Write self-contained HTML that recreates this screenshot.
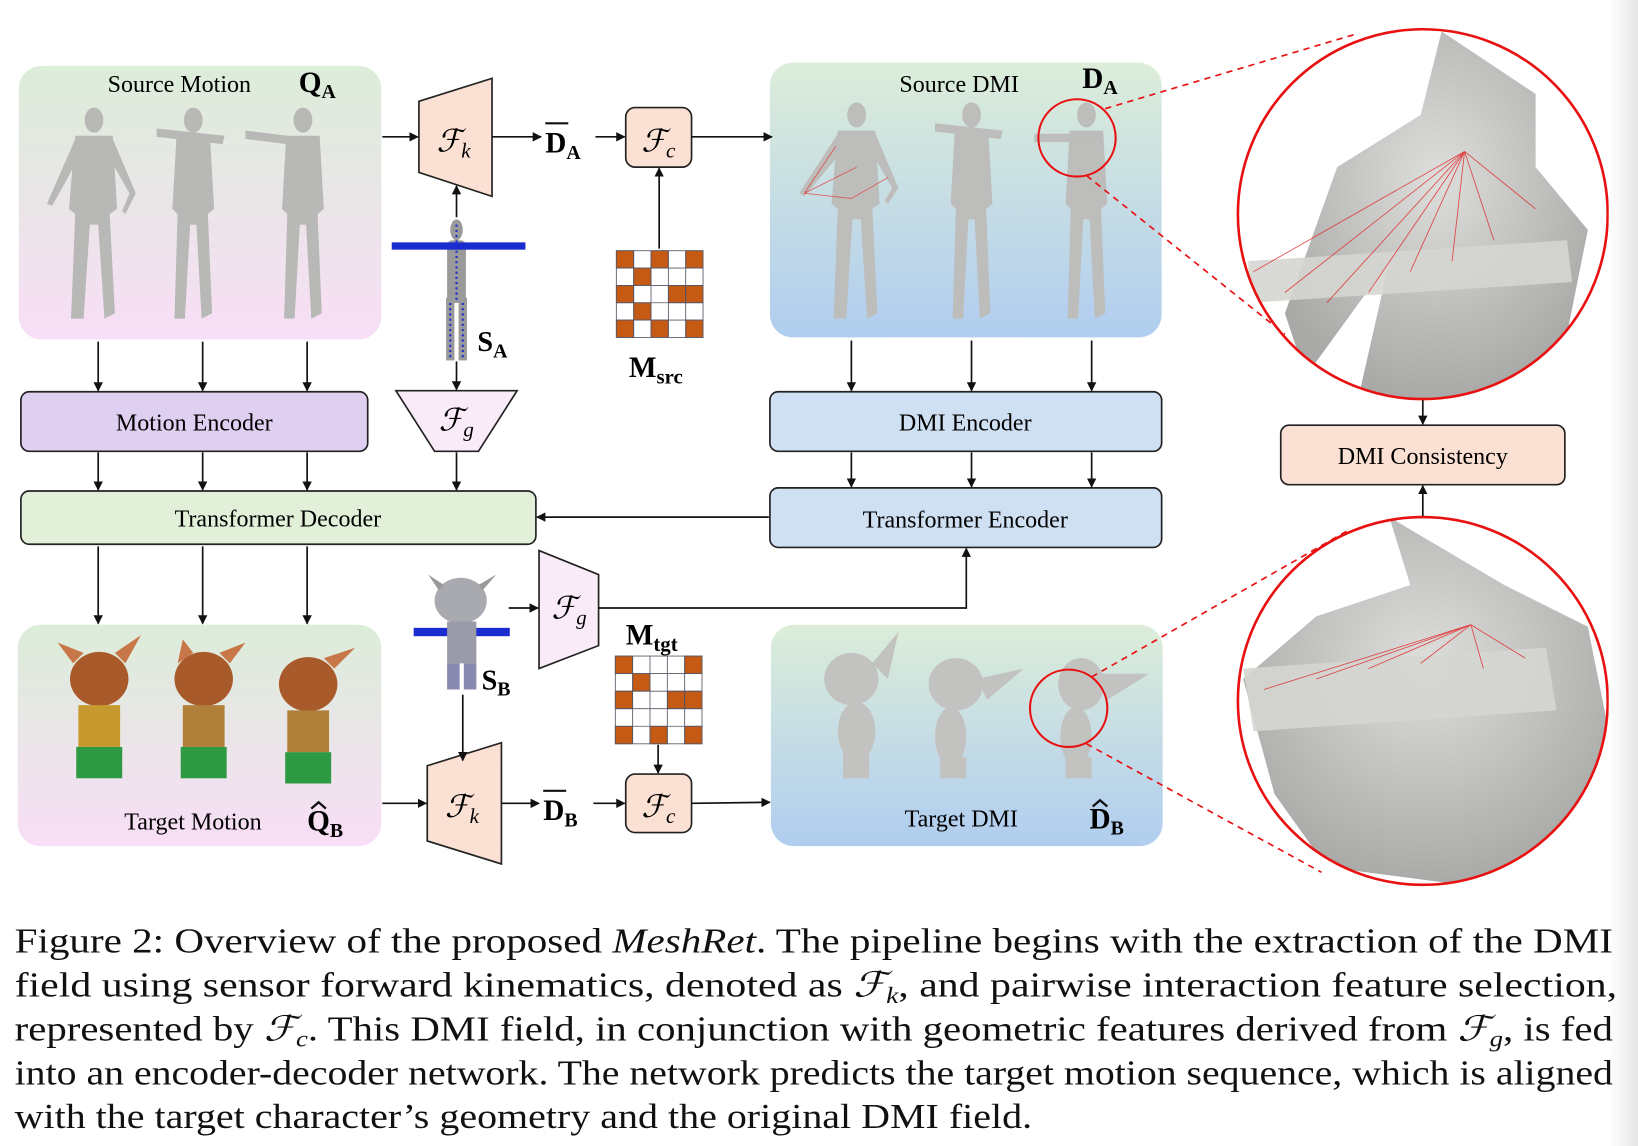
<!DOCTYPE html>
<html><head><meta charset="utf-8"><style>
html,body{margin:0;padding:0;background:#fff;}
svg{display:block;}
text{font-family:"Liberation Serif",serif;}
</style></head><body>
<svg width="1638" height="1146" viewBox="0 0 1568 1097" preserveAspectRatio="none" xmlns="http://www.w3.org/2000/svg">
<defs>
<linearGradient id="gp" x1="0" y1="0" x2="0" y2="1"><stop offset="0" stop-color="#dcedd9"/><stop offset="1" stop-color="#f8def6"/></linearGradient>
<linearGradient id="gb" x1="0" y1="0" x2="0" y2="1"><stop offset="0" stop-color="#dcedd9"/><stop offset="1" stop-color="#b0cdf0"/></linearGradient>
<linearGradient id="edge" x1="0" y1="0" x2="1" y2="0"><stop offset="0" stop-color="#fff"/><stop offset="1" stop-color="#e6e6e6"/></linearGradient>
<marker id="ar" viewBox="0 0 10 10" refX="9" refY="5" markerWidth="9" markerHeight="9" orient="auto" markerUnits="userSpaceOnUse"><path d="M0,0L10,5L0,10z" fill="#111"/></marker>
<radialGradient id="gray" cx="0.5" cy="0.4" r="0.6"><stop offset="0" stop-color="#d8d8d6"/><stop offset="1" stop-color="#9a9a98"/></radialGradient>
</defs>
<rect x="1540" y="0" width="28" height="1097" fill="url(#edge)"/>

<!-- panels -->
<rect x="18" y="63" width="347" height="262" rx="22" fill="url(#gp)"/>
<rect x="737" y="60" width="375" height="263" rx="22" fill="url(#gb)"/>
<rect x="17" y="598" width="348" height="212" rx="22" fill="url(#gp)"/>
<rect x="738" y="598" width="375" height="212" rx="22" fill="url(#gb)"/>

<text x="103" y="88" font-size="23">Source Motion</text>
<text x="286" y="88" font-size="28" font-weight="bold">Q<tspan font-size="19" dy="6">A</tspan></text>
<text x="861" y="88" font-size="23">Source DMI</text>
<text x="1036" y="84" font-size="28" font-weight="bold">D<tspan font-size="19" dy="6">A</tspan></text>
<text x="119" y="794" font-size="23">Target Motion</text>
<text x="294" y="795" font-size="28" font-weight="bold">Q<tspan font-size="19" dy="6">B</tspan></text>
<path d="M298,774 L305,768 L312,774" stroke="#111" stroke-width="2.2" fill="none"/>
<text x="866" y="791" font-size="23">Target DMI</text>
<text x="1043" y="793" font-size="28" font-weight="bold">D<tspan font-size="19" dy="6">B</tspan></text>
<path d="M1046,772 L1053,766 L1060,772" stroke="#111" stroke-width="2.2" fill="none"/>

<!-- source motion figures -->
<g fill="#b8b8b6">
<g transform="translate(90,105)"><ellipse cx="0" cy="10" rx="9" ry="12"/><path d="M-18,25 L18,25 L22,95 L15,100 L20,195 L10,200 L4,110 L-4,110 L-10,200 L-22,200 L-18,100 L-24,95z"/><path d="M-18,28 L-45,90 L-40,92 L-14,45z"/><path d="M18,28 L40,80 L30,100 L27,97 L34,80 L14,45z"/></g>
<g transform="translate(185,105)"><ellipse cx="0" cy="10" rx="9" ry="12"/><path d="M-16,25 L16,25 L20,95 L14,100 L18,195 L8,200 L3,110 L-3,110 L-8,200 L-18,200 L-15,100 L-20,95z"/><path d="M-35,18 L30,25 L28,33 L-35,26z"/></g>
<g transform="translate(290,105)"><ellipse cx="0" cy="10" rx="9" ry="12"/><path d="M-16,25 L16,25 L20,95 L14,100 L18,195 L8,200 L3,110 L-3,110 L-8,200 L-18,200 L-15,100 L-20,95z"/><path d="M-55,20 L10,28 L8,36 L-55,28z"/></g>
</g>
<!-- source DMI figures -->
<g fill="#bdbdbb">
<g transform="translate(820,100)"><ellipse cx="0" cy="10" rx="9" ry="12"/><path d="M-18,25 L18,25 L22,95 L15,100 L20,200 L10,205 L4,110 L-4,110 L-10,205 L-22,205 L-18,100 L-24,95z"/><path d="M-18,28 L-55,85 L-50,88 L-14,45z"/><path d="M18,28 L40,80 L30,95 L27,92 L34,80 L14,45z"/></g>
<g transform="translate(930,100)"><ellipse cx="0" cy="10" rx="9" ry="12"/><path d="M-16,25 L16,25 L20,95 L14,100 L18,200 L8,205 L3,110 L-3,110 L-8,205 L-18,205 L-15,100 L-20,95z"/><path d="M-35,18 L30,25 L28,33 L-35,26z"/></g>
<g transform="translate(1040,100)"><ellipse cx="0" cy="10" rx="9" ry="12"/><path d="M-16,25 L16,25 L20,95 L14,100 L18,200 L8,205 L3,110 L-3,110 L-8,205 L-18,205 L-15,100 L-20,95z"/><path d="M-50,28 L10,28 L8,36 L-50,36z"/></g>
</g>
<g stroke="#e03030" stroke-width="0.7" opacity="0.8"><line x1="770" y1="185" x2="815" y2="190"/><line x1="770" y1="185" x2="820" y2="160"/><line x1="850" y1="170" x2="815" y2="190"/><line x1="770" y1="185" x2="800" y2="140"/></g>

<!-- target motion figures -->
<g>
<g transform="translate(95,620)"><ellipse cx="0" cy="30" rx="28" ry="26" fill="#a85a2a"/><path d="M-25,15 L-40,-5 L-15,5z M25,15 L40,-12 L15,5z" fill="#c87848"/><rect x="-20" y="55" width="40" height="40" fill="#c79a30"/><rect x="-22" y="95" width="44" height="30" fill="#2f9a44"/></g>
<g transform="translate(195,620)"><ellipse cx="0" cy="30" rx="28" ry="26" fill="#a85a2a"/><path d="M-25,15 L-20,-8 L-10,5z M25,15 L40,-5 L15,5z" fill="#c87848"/><rect x="-20" y="55" width="40" height="40" fill="#b0803a"/><rect x="-22" y="95" width="44" height="30" fill="#2f9a44"/></g>
<g transform="translate(295,625)"><ellipse cx="0" cy="30" rx="28" ry="26" fill="#a85a2a"/><path d="M25,15 L45,-5 L15,5z" fill="#c87848"/><rect x="-20" y="55" width="40" height="40" fill="#b0803a"/><rect x="-22" y="95" width="44" height="30" fill="#2f9a44"/></g>
</g>
<!-- target DMI figures -->
<g fill="#c2c2c0">
<g transform="translate(815,625)"><ellipse cx="0" cy="25" rx="26" ry="25"/><path d="M20,10 L45,-20 L35,25z"/><ellipse cx="5" cy="75" rx="18" ry="28"/><rect x="-8" y="95" width="25" height="25"/></g>
<g transform="translate(915,630)"><ellipse cx="0" cy="25" rx="26" ry="25"/><path d="M20,20 L65,10 L30,40z"/><ellipse cx="-5" cy="75" rx="15" ry="28"/><rect x="-15" y="95" width="25" height="20"/></g>
<g transform="translate(1035,630)"><ellipse cx="0" cy="25" rx="22" ry="25"/><path d="M18,15 L65,15 L25,40z"/><ellipse cx="-5" cy="75" rx="15" ry="28"/><rect x="-15" y="95" width="25" height="20"/></g>
</g>

<!-- skeletons -->
<g fill="#9a9a9a"><ellipse cx="437" cy="220" rx="6" ry="10"/><rect x="428" y="230" width="18" height="60" rx="5"/><rect x="375" y="232" width="128" height="7" fill="#1a2bd0"/><rect x="427" y="285" width="8" height="60"/><rect x="439" y="285" width="8" height="60"/></g>
<g stroke="#1a2bd0" stroke-width="2" stroke-dasharray="2 3"><line x1="437" y1="215" x2="437" y2="290"/><line x1="431" y1="290" x2="431" y2="345"/><line x1="443" y1="290" x2="443" y2="345"/></g>
<g><ellipse cx="441" cy="575" rx="25" ry="22" fill="#a9a9b0"/><path d="M420,565 L410,550 L425,560z M462,565 L475,550 L458,560z" fill="#999"/><rect x="396" y="601" width="92" height="8" fill="#1a2bd0"/><rect x="428" y="595" width="28" height="40" fill="#9a9aa8"/><rect x="428" y="635" width="12" height="25" fill="#8a8ab0"/><rect x="444" y="635" width="12" height="25" fill="#8a8ab0"/></g>
<text x="457" y="336" font-size="27" font-weight="bold">S<tspan font-size="19" dy="6">A</tspan></text>
<text x="461" y="660" font-size="27" font-weight="bold">S<tspan font-size="19" dy="6">B</tspan></text>

<!-- boxes -->
<g stroke="#222" stroke-width="1.6">
<rect x="20" y="375" width="332" height="57" rx="8" fill="#dfd0f1"/>
<rect x="737" y="375" width="375" height="57" rx="8" fill="#cfe0f3"/>
<rect x="20" y="470" width="493" height="51" rx="8" fill="#e2efd9"/>
<rect x="737" y="467" width="375" height="57" rx="8" fill="#cfe0f3"/>
<rect x="1226" y="407" width="272" height="57" rx="8" fill="#fbe1d3"/>
<polygon points="401,97 471,75 471,188 401,165" fill="#fbe1d3"/>
<rect x="599" y="103" width="63" height="57" rx="9" fill="#fbe1d3"/>
<polygon points="379,374 495,374 458,432 416,432" fill="#f9ecf8"/>
<polygon points="516,527 573,550 573,618 516,640" fill="#f9ecf8"/>
<polygon points="409,733 480,711 480,827 409,805" fill="#fbe1d3"/>
<rect x="599" y="741" width="63" height="56" rx="9" fill="#fbe1d3"/>
</g>
<g font-size="23" text-anchor="middle">
<text x="186" y="412">Motion Encoder</text>
<text x="924" y="412">DMI Encoder</text>
<text x="266" y="504">Transformer Decoder</text>
<text x="924" y="505">Transformer Encoder</text>
<text x="1362" y="444">DMI Consistency</text>
</g>
<g font-size="30" font-style="italic" font-family="Liberation Serif,serif">
<text x="418" y="145">ℱ<tspan font-size="20" dy="6">k</tspan></text>
<text x="614" y="145">ℱ<tspan font-size="20" dy="6">c</tspan></text>
<text x="420" y="412">ℱ<tspan font-size="20" dy="6">g</tspan></text>
<text x="528" y="592">ℱ<tspan font-size="20" dy="6">g</tspan></text>
<text x="426" y="782">ℱ<tspan font-size="20" dy="6">k</tspan></text>
<text x="614" y="782">ℱ<tspan font-size="20" dy="6">c</tspan></text>
</g>
<text x="522" y="146" font-size="28" font-weight="bold">D<tspan font-size="19" dy="6">A</tspan></text>
<line x1="522" y1="118" x2="544" y2="118" stroke="#111" stroke-width="2"/>
<text x="520" y="785" font-size="28" font-weight="bold">D<tspan font-size="19" dy="6">B</tspan></text>
<line x1="520" y1="757" x2="542" y2="757" stroke="#111" stroke-width="2"/>
<text x="602" y="361" font-size="28" font-weight="bold">M<tspan font-size="20" dy="6">src</tspan></text>
<text x="599" y="617" font-size="28" font-weight="bold">M<tspan font-size="20" dy="6">tgt</tspan></text>

<!-- matrices -->
<g stroke="#556" stroke-width="0.8">
<g transform="translate(590,240)">
<rect width="83" height="83" fill="#fff"/>
<g fill="#c55a14">
<rect x="0" y="0" width="16.6" height="16.6"/><rect x="33.2" y="0" width="16.6" height="16.6"/><rect x="66.4" y="0" width="16.6" height="16.6"/>
<rect x="16.6" y="16.6" width="16.6" height="16.6"/>
<rect x="0" y="33.2" width="16.6" height="16.6"/><rect x="49.8" y="33.2" width="16.6" height="16.6"/><rect x="66.4" y="33.2" width="16.6" height="16.6"/>
<rect x="16.6" y="49.8" width="16.6" height="16.6"/>
<rect x="0" y="66.4" width="16.6" height="16.6"/><rect x="33.2" y="66.4" width="16.6" height="16.6"/><rect x="66.4" y="66.4" width="16.6" height="16.6"/>
</g>
<path d="M16.6,0V83M33.2,0V83M49.8,0V83M66.4,0V83M0,16.6H83M0,33.2H83M0,49.8H83M0,66.4H83" fill="none"/>
</g>
<g transform="translate(589,628)">
<rect width="83" height="84" fill="#fff"/>
<g fill="#c55a14">
<rect x="0" y="0" width="16.6" height="16.8"/><rect x="66.4" y="0" width="16.6" height="16.8"/>
<rect x="16.6" y="16.8" width="16.6" height="16.8"/>
<rect x="0" y="33.6" width="16.6" height="16.8"/><rect x="49.8" y="33.6" width="16.6" height="16.8"/><rect x="66.4" y="33.6" width="16.6" height="16.8"/>
<rect x="0" y="67.2" width="16.6" height="16.8"/><rect x="33.2" y="67.2" width="16.6" height="16.8"/><rect x="66.4" y="67.2" width="16.6" height="16.8"/>
</g>
<path d="M16.6,0V84M33.2,0V84M49.8,0V84M66.4,0V84M0,16.8H83M0,33.6H83M0,50.4H83M0,67.2H83" fill="none"/>
</g>
</g>

<!-- arrows -->
<g stroke="#111" stroke-width="1.6" fill="none" marker-end="url(#ar)">
<line x1="366" y1="131" x2="400" y2="131"/>
<line x1="471" y1="131" x2="518" y2="131"/>
<line x1="570" y1="131" x2="598" y2="131"/>
<line x1="662" y1="131" x2="739" y2="131"/>
<line x1="437" y1="208" x2="437" y2="178"/>
<line x1="631" y1="238" x2="631" y2="161"/>
<line x1="94" y1="327" x2="94" y2="374"/>
<line x1="194" y1="327" x2="194" y2="374"/>
<line x1="294" y1="327" x2="294" y2="374"/>
<line x1="437" y1="346" x2="437" y2="373"/>
<line x1="815" y1="326" x2="815" y2="374"/>
<line x1="930" y1="326" x2="930" y2="374"/>
<line x1="1045" y1="326" x2="1045" y2="374"/>
<line x1="94" y1="433" x2="94" y2="469"/>
<line x1="194" y1="433" x2="194" y2="469"/>
<line x1="294" y1="433" x2="294" y2="469"/>
<line x1="437" y1="433" x2="437" y2="469"/>
<line x1="815" y1="433" x2="815" y2="466"/>
<line x1="930" y1="433" x2="930" y2="466"/>
<line x1="1045" y1="433" x2="1045" y2="466"/>
<line x1="736" y1="495" x2="514" y2="495"/>
<line x1="94" y1="523" x2="94" y2="597"/>
<line x1="194" y1="523" x2="194" y2="597"/>
<line x1="294" y1="523" x2="294" y2="597"/>
<polyline points="573,582 925,582 925,525"/>
<line x1="487" y1="582" x2="515" y2="582"/>
<line x1="443" y1="665" x2="443" y2="728"/>
<line x1="366" y1="769" x2="408" y2="769"/>
<line x1="480" y1="769" x2="516" y2="769"/>
<line x1="568" y1="769" x2="598" y2="769"/>
<line x1="630" y1="713" x2="630" y2="740"/>
<line x1="662" y1="769" x2="737" y2="768"/>
</g>

<!-- zoom circles -->
<g>
<path d="M1380,30 L1470,90 L1470,160 L1520,220 L1500,320 L1450,382 L1300,382 L1330,250 L1250,360 L1230,300 L1280,160 L1360,110z" fill="url(#gray)" opacity="0.85"/>
<path d="M1195,250 L1500,230 L1505,270 L1195,290z" fill="#d5d5d2" opacity="0.9"/>
<g stroke="#e02020" stroke-width="0.8" opacity="0.8"><line x1="1402" y1="145" x2="1200" y2="260"/><line x1="1402" y1="145" x2="1230" y2="280"/><line x1="1402" y1="145" x2="1270" y2="290"/><line x1="1402" y1="145" x2="1310" y2="280"/><line x1="1402" y1="145" x2="1350" y2="260"/><line x1="1402" y1="145" x2="1390" y2="250"/><line x1="1402" y1="145" x2="1430" y2="230"/><line x1="1402" y1="145" x2="1470" y2="200"/></g>
<path d="M1175,20 H1550 V395 H1175z M1185,205 A177,177 0 1,0 1539,205 A177,177 0 1,0 1185,205z" fill="#fff" fill-rule="evenodd"/>
<ellipse cx="1362" cy="205" rx="177" ry="177" fill="none" stroke="#e81010" stroke-width="2.5"/>

<path d="M1330,495 L1440,560 L1520,600 L1540,700 L1500,800 L1400,847 L1270,830 L1220,760 L1190,650 L1260,590 L1350,560z" fill="url(#gray)" opacity="0.85"/>
<path d="M1190,640 L1480,620 L1490,680 L1200,700z" fill="#d5d5d2" opacity="0.9"/>
<g stroke="#e02020" stroke-width="0.8" opacity="0.8"><line x1="1408" y1="598" x2="1210" y2="660"/><line x1="1408" y1="598" x2="1260" y2="650"/><line x1="1408" y1="598" x2="1310" y2="640"/><line x1="1408" y1="598" x2="1360" y2="635"/><line x1="1408" y1="598" x2="1420" y2="640"/><line x1="1408" y1="598" x2="1460" y2="630"/></g>
<path d="M1175,485 H1550 V860 H1175z M1185,671 A177,176 0 1,0 1539,671 A177,176 0 1,0 1185,671z" fill="#fff" fill-rule="evenodd"/>
<ellipse cx="1362" cy="671" rx="177" ry="176" fill="none" stroke="#e81010" stroke-width="2.5"/>
<rect x="1540" y="20" width="28" height="840" fill="url(#edge)"/>
<circle cx="1031" cy="132" r="37" fill="none" stroke="#e81010" stroke-width="2"/>
<circle cx="1023" cy="678" r="37" fill="none" stroke="#e81010" stroke-width="2"/>
<g stroke="#e81010" stroke-width="1.6" stroke-dasharray="6 5">
<line x1="1058" y1="104" x2="1300" y2="32"/>
<line x1="1040" y1="168" x2="1230" y2="320"/>
<line x1="1045" y1="648" x2="1290" y2="508"/>
<line x1="1040" y1="712" x2="1265" y2="835"/>
</g>
</g>
<g stroke="#111" stroke-width="1.6" fill="none" marker-end="url(#ar)">
<line x1="1362" y1="383" x2="1362" y2="406"/>
<line x1="1362" y1="494" x2="1362" y2="465"/>
</g>

<!-- caption -->
<g font-size="33.5" fill="#111">
<text x="14" y="912" textLength="1530" lengthAdjust="spacingAndGlyphs">Figure 2: Overview of the proposed <tspan font-style="italic">MeshRet</tspan>. The pipeline begins with the extraction of the DMI</text>
<text x="14" y="954" textLength="1534" lengthAdjust="spacingAndGlyphs">field using sensor forward kinematics, denoted as <tspan font-style="italic">ℱ</tspan><tspan font-size="22" dy="6" font-style="italic">k</tspan><tspan dy="-6">, and pairwise interaction feature selection,</tspan></text>
<text x="14" y="996" textLength="1530" lengthAdjust="spacingAndGlyphs">represented by <tspan font-style="italic">ℱ</tspan><tspan font-size="22" dy="6" font-style="italic">c</tspan><tspan dy="-6">. This DMI field, in conjunction with geometric features derived from </tspan><tspan font-style="italic">ℱ</tspan><tspan font-size="22" dy="6" font-style="italic">g</tspan><tspan dy="-6">, is fed</tspan></text>
<text x="14" y="1038" textLength="1530" lengthAdjust="spacingAndGlyphs">into an encoder-decoder network. The network predicts the target motion sequence, which is aligned</text>
<text x="14" y="1080" textLength="974" lengthAdjust="spacingAndGlyphs">with the target character’s geometry and the original DMI field.</text>
</g>
</svg>
</body></html>
